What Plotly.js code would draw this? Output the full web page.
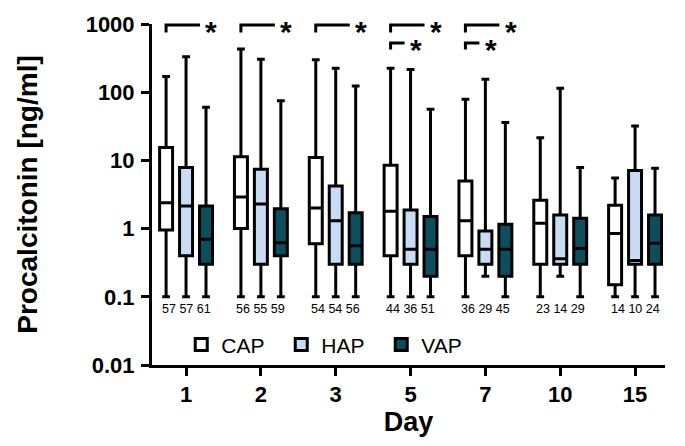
<!DOCTYPE html>
<html>
<head>
<meta charset="utf-8">
<script src="https://cdn.plot.ly/plotly-3.0.1.min.js"></script>
<style>html,body{margin:0;padding:0;background:#fff;}#chart{width:685px;height:446px;}</style>
</head>
<body>
<div id="chart"></div>
<script>
const days = ['1','2','3','5','7','10','15'];

const capLower = [0.1,0.1,0.1,0.1,0.1,0.1,0.1];
const capQ1    = [0.95,1.0,0.6,0.4,0.4,0.3,0.15];
const capMed   = [2.4,2.9,2.0,1.8,1.3,1.2,0.85];
const capQ3    = [15.5,11.3,11,8.5,5.0,2.6,2.2];
const capUpper = [170,430,300,225,79,21.5,5.5];

const hapLower = [0.1,0.1,0.1,0.1,0.2,0.2,0.1];
const hapQ1    = [0.4,0.3,0.3,0.3,0.3,0.3,0.3];
const hapMed   = [2.15,2.3,1.3,0.5,0.5,0.36,0.34];
const hapQ3    = [7.9,7.4,4.2,1.87,0.92,1.58,7.1];
const hapUpper = [332,303,224,216,155,114,32];

const vapLower = [0.1,0.1,0.1,0.1,0.1,0.1,0.1];
const vapQ1    = [0.3,0.4,0.3,0.2,0.2,0.3,0.3];
const vapMed   = [0.7,0.62,0.56,0.5,0.5,0.51,0.61];
const vapQ3    = [2.14,1.96,1.71,1.5,1.16,1.42,1.58];
const vapUpper = [60,75,123,56,36,7.9,7.7];

const nCap = [57,56,54,44,36,23,14];
const nHap = [57,55,54,36,29,14,10];
const nVap = [61,59,56,51,45,29,24];

const sigCapVap = ['1','2','3','5','7'];
const sigCapHap = ['5','7'];

const yTicks = [0.01,0.1,1,10,100,1000];
const yTickText = ['0.01','0.1','1','10','100','1000'];

const FONT = 'Liberation Sans, Arial, sans-serif';
const colors = {CAP:'#ffffff', HAP:'#c8dcf4', VAP:'#0c4e5e'};

function boxTrace(name, lo, q1, med, q3, hi){
  return {
    type:'box', name:name, x:days,
    lowerfence:lo, q1:q1, median:med, q3:q3, upperfence:hi,
    fillcolor:colors[name], line:{color:'#000', width:3},
    whiskerwidth:0.6, boxpoints:false, hoverinfo:'skip'
  };
}

const data = [
  boxTrace('CAP', capLower, capQ1, capMed, capQ3, capUpper),
  boxTrace('HAP', hapLower, hapQ1, hapMed, hapQ3, hapUpper),
  boxTrace('VAP', vapLower, vapQ1, vapMed, vapQ3, vapUpper)
];

const off = 0.267; // group slot offset in category units
const shapes = [];
const annotations = [];

days.forEach((d,i)=>{
  annotations.push({
    x:i, xref:'x', y:0.138, yref:'paper', showarrow:false,
    text: nCap[i]+' '+nHap[i]+' '+nVap[i],
    font:{family:FONT, size:12.5, color:'#000'}
  });
});

function bracket(day, endOff, yTop, yTick){
  const i = days.indexOf(day);
  const x0 = i - off, x1 = i + endOff - 0.08;
  shapes.push({type:'path', xref:'x', yref:'paper',
    path:'M '+x0+','+yTick+' L '+x0+','+yTop+' L '+x1+','+yTop,
    line:{color:'#000', width:3}});
  annotations.push({x:i+endOff+0.07, xref:'x', y:yTop, yref:'paper', showarrow:false,
    text:'*', yanchor:'middle', yshift:-6,
    font:{family:FONT, size:30, color:'#000', weight:'bold'}});
}
sigCapVap.forEach(d=>bracket(d, off, 0.997, 0.975));
sigCapHap.forEach(d=>bracket(d, 0, 0.944, 0.925));

const layout = {
  width:685, height:446,
  margin:{l:152, r:20, t:24, b:81},
  paper_bgcolor:'#fff', plot_bgcolor:'#fff',
  boxmode:'group', boxgap:0.2, boxgroupgap:0.35,
  showlegend:true,
  legend:{orientation:'h', x:0.057, xanchor:'left', y:0.059, yanchor:'middle',
    font:{family:FONT, size:21, color:'#000'}, entrywidth:55, entrywidthmode:'pixels',
    bgcolor:'rgba(0,0,0,0)', itemclick:false},
  xaxis:{type:'category', range:[-0.455, 6.4], showline:true, linecolor:'#000', linewidth:3,
    ticks:'outside', ticklen:8, tickwidth:3, tickcolor:'#000', showgrid:false, zeroline:false,
    tickfont:{family:FONT, size:22, color:'#000', weight:'bold'},
    title:{text:'Day', font:{family:FONT, size:27, color:'#000', weight:'bold'}, standoff:2}},
  yaxis:{type:'log', range:[-2, 3], showline:true, linecolor:'#000', linewidth:3,
    ticks:'outside', ticklen:8, tickwidth:3, tickcolor:'#000', showgrid:false, zeroline:false,
    tickvals:yTicks, ticktext:yTickText, ticklabelstandoff:2,
    tickfont:{family:FONT, size:22, color:'#000', weight:'bold'},
    title:{text:'Procalcitonin [ng/ml]', font:{family:FONT, size:28, color:'#000', weight:'bold'}, standoff:40}},
  shapes:shapes, annotations:annotations
};

Plotly.newPlot('chart', data, layout, {displayModeBar:false, staticPlot:true});
</script>
</body>
</html>
